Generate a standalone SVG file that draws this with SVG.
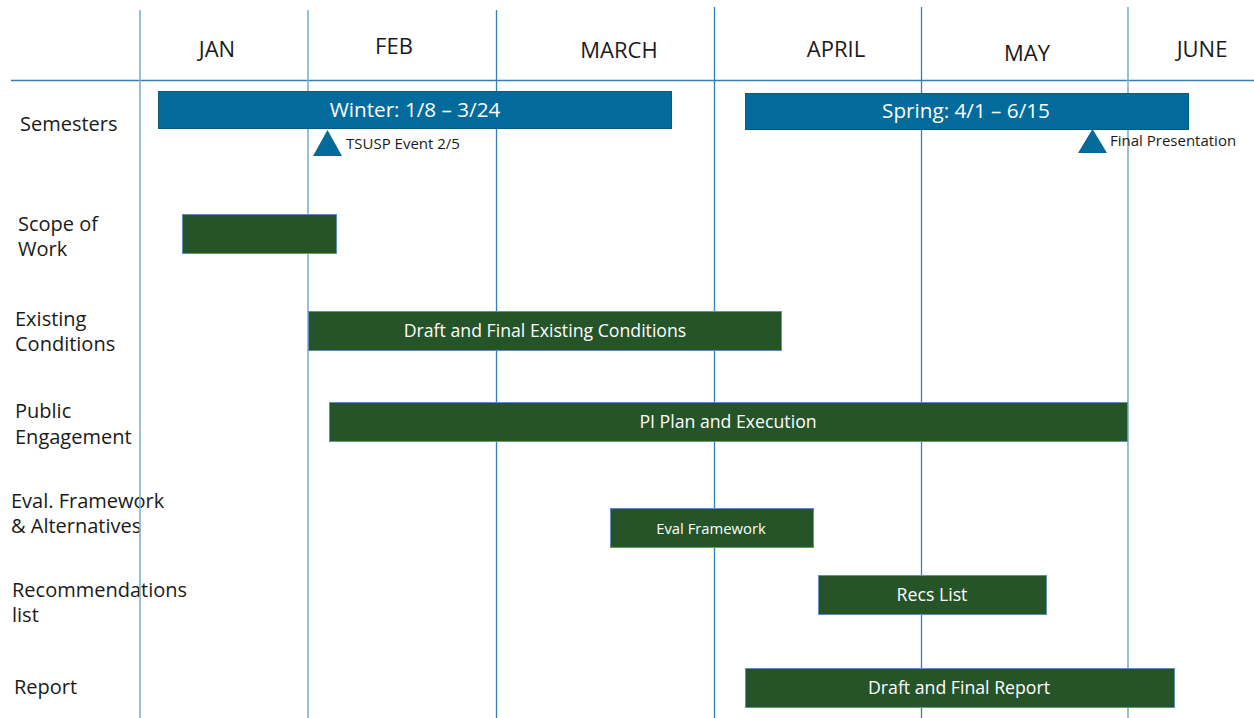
<svg xmlns="http://www.w3.org/2000/svg" width="1254" height="718" viewBox="0 0 1254 718">
  <style>
    .lbl { font-family: "Open Sans", "Noto Sans", sans-serif; font-size: 20px; fill: #1a1a1a; }
    .month { font-family: "Open Sans", "Noto Sans", sans-serif; font-size: 22px; fill: #1a1a1a; text-anchor: middle; }
    .sem { fill: #026b9c; stroke: #0a5a82; stroke-width: 1; }
    .task { fill: #265429; stroke: #5d8fb8; stroke-width: 1; }
    .barTxt { font-family: "Open Sans", "Noto Sans", sans-serif; fill: #ffffff; text-anchor: middle; }
    .ms { fill: #046a9a; }
    .msTxt { font-family: "Open Sans", "Noto Sans", sans-serif; font-size: 15px; fill: #1a1a1a; }
    .grid { stroke: #2f80bb; stroke-width: 1.3; }
    .gridLt { stroke: #7db1cf; stroke-width: 1.6; }
  </style>

  <rect width="1254" height="718" fill="#ffffff"/>

  <!-- month headings -->
  <g id="months">
    <text class="month" x="217" y="57">JAN</text>
    <text class="month" x="394" y="54">FEB</text>
    <text class="month" x="619" y="58">MARCH</text>
    <text class="month" x="836" y="57">APRIL</text>
    <text class="month" x="1027" y="61">MAY</text>
    <text class="month" x="1202" y="57">JUNE</text>
  </g>

  <!-- row labels -->
  <g id="rows">
    <text class="lbl" x="20" y="131">Semesters</text>
    <text class="lbl" x="18" y="231">Scope of</text>
    <text class="lbl" x="18" y="256">Work</text>
    <text class="lbl" x="15" y="326">Existing</text>
    <text class="lbl" x="15" y="351">Conditions</text>
    <text class="lbl" x="15" y="418">Public</text>
    <text class="lbl" x="15" y="444">Engagement</text>
    <text class="lbl" x="11" y="508">Eval. Framework</text>
    <text class="lbl" x="11" y="533">&amp; Alternatives</text>
    <text class="lbl" x="12" y="597">Recommendations</text>
    <text class="lbl" x="12" y="622">list</text>
    <text class="lbl" x="14" y="694">Report</text>
  </g>

  <!-- timeline grid -->
  <g id="grid">
    <line class="grid" x1="11" y1="80.5" x2="1254" y2="80.5"/>
    <line class="gridLt" x1="140" y1="10" x2="140" y2="718"/>
    <line class="gridLt" x1="308" y1="10" x2="308" y2="718"/>
    <line class="grid" x1="496.5" y1="10" x2="496.5" y2="718"/>
    <line class="grid" x1="714.5" y1="7" x2="714.5" y2="718"/>
    <line class="grid" x1="921.5" y1="7" x2="921.5" y2="718"/>
    <line class="gridLt" x1="1128" y1="7" x2="1128" y2="718"/>
  </g>

  <!-- semesters -->
  <g id="winter">
    <rect class="sem" x="158.5" y="91.5" width="513" height="37"/>
    <text class="barTxt" x="415" y="117" font-size="20.7">Winter: 1/8 – 3/24</text>
  </g>
  <g id="spring">
    <rect class="sem" x="745.5" y="93.5" width="443" height="36"/>
    <text class="barTxt" x="966" y="118" font-size="20.7">Spring: 4/1 – 6/15</text>
  </g>

  <!-- milestones -->
  <g id="tsusp">
    <polygon class="ms" points="327.5,130 342,156 313,156"/>
    <text class="msTxt" x="346" y="149">TSUSP Event 2/5</text>
  </g>
  <g id="final">
    <polygon class="ms" points="1092.5,129 1107,153 1078,153"/>
    <text class="msTxt" x="1110" y="146">Final Presentation</text>
  </g>

  <!-- tasks -->
  <g id="scope">
    <rect class="task" x="182.5" y="214.5" width="154" height="39"/>
  </g>
  <g id="existing">
    <rect class="task" x="308.5" y="311.5" width="473" height="39"/>
    <text class="barTxt" x="545" y="337" font-size="17.7">Draft and Final Existing Conditions</text>
  </g>
  <g id="pi">
    <rect class="task" x="329.5" y="402.5" width="798" height="39"/>
    <text class="barTxt" x="728" y="428" font-size="17.7">PI Plan and Execution</text>
  </g>
  <g id="eval">
    <rect class="task" x="610.5" y="508.5" width="203" height="39"/>
    <text class="barTxt" x="711" y="534" font-size="14.8">Eval Framework</text>
  </g>
  <g id="recs">
    <rect class="task" x="818.5" y="575.5" width="228" height="39"/>
    <text class="barTxt" x="932" y="601" font-size="17.7">Recs List</text>
  </g>
  <g id="report">
    <rect class="task" x="745.5" y="668.5" width="429" height="39"/>
    <text class="barTxt" x="959" y="694" font-size="17.7">Draft and Final Report</text>
  </g>
</svg>
